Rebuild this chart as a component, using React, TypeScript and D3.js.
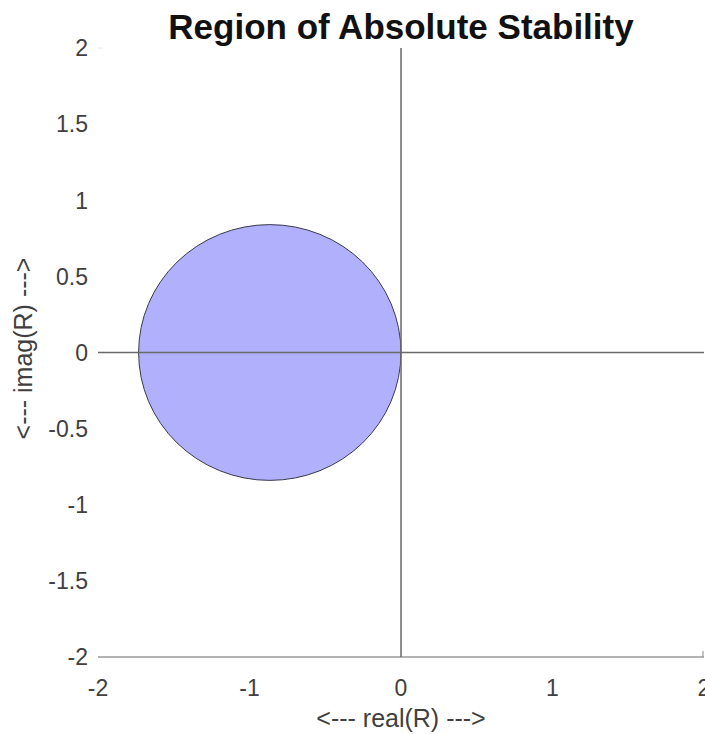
import React from "react";
import * as d3 from "d3";

const title = "Region of Absolute Stability";
const xLabel = "<--- real(R) --->";
const yLabel = "<--- imag(R) --->";
const xTicks = [-2, -1, 0, 1, 2];
const yTicks = [2, 1.5, 1, 0.5, 0, -0.5, -1, -1.5, -2];
const xDomain = [-2, 2];
const yDomain = [-2, 2];
// stability region boundary (circle)
const regionCenter = [-0.866, 0];
const regionRadius = [0.866, 0.84];

const W = 705;
const H = 734;
const left = 98;
const right = 704;
const top = 48;
const bottom = 657;

export default function App() {
  const x = d3.scaleLinear().domain(xDomain).range([left, right]);
  const y = d3.scaleLinear().domain(yDomain).range([bottom, top]);
  const font = "'Liberation Sans', Arial, Helvetica, sans-serif";
  const cx = x(regionCenter[0]);
  const cy = y(regionCenter[1]);
  const rx = x(regionCenter[0] + regionRadius[0]) - cx;
  const ry = cy - y(regionCenter[1] + regionRadius[1]);
  return (
    <svg
      width={W}
      height={H}
      style={{ position: "absolute", left: 0, top: 0, background: "#fff" }}
      fontFamily={font}
    >
      <rect x={0} y={0} width={W} height={H} fill="#fff" />
      <ellipse cx={cx} cy={cy} rx={rx} ry={ry} fill="#b0b0fd" stroke="#3a3a4a" strokeWidth={1} />
      {/* bottom axis */}
      <line x1={x(xDomain[0])} x2={x(xDomain[1])} y1={y(yDomain[0])} y2={y(yDomain[0])} stroke="#9a9a9a" strokeWidth={1.6} />
      <line x1={x(xDomain[1]) - 1} x2={x(xDomain[1]) - 1} y1={y(yDomain[0])} y2={y(yDomain[0]) - 6} stroke="#9a9a9a" strokeWidth={1.2} />
      <line x1={x(xDomain[0])} x2={x(xDomain[0]) + 5} y1={y(yDomain[1])} y2={y(yDomain[1])} stroke="#e4e4e4" strokeWidth={1} />
      {/* zero lines */}
      <line x1={x(xDomain[0])} x2={x(xDomain[1])} y1={y(0)} y2={y(0)} stroke="#6a6a6a" strokeWidth={1.5} />
      <line x1={x(0)} x2={x(0)} y1={y(yDomain[0])} y2={y(yDomain[1])} stroke="#6a6a6a" strokeWidth={1.5} />
      {/* y tick labels */}
      {yTicks.map((t) => (
        <text key={"y" + t} x={left - 10} y={y(t)} dy="0.36em" textAnchor="end" fontSize={23} fill="#404040">
          {t}
        </text>
      ))}
      {/* x tick labels */}
      {xTicks.map((t) => (
        <text key={"x" + t} x={x(t)} y={696} textAnchor="middle" fontSize={23} fill="#404040">
          {t}
        </text>
      ))}
      <text x={(left + right) / 2} y={727} textAnchor="middle" fontSize={25} fill="#404040">
        {xLabel}
      </text>
      <text
        transform={`translate(32, ${(top + bottom) / 2 - 4}) rotate(-90)`}
        textAnchor="middle"
        fontSize={25}
        fill="#404040"
      >
        {yLabel}
      </text>
      <text x={(left + right) / 2} y={39} textAnchor="middle" fontSize={35} fontWeight="bold" fill="#111">
        {title}
      </text>
    </svg>
  );
}
